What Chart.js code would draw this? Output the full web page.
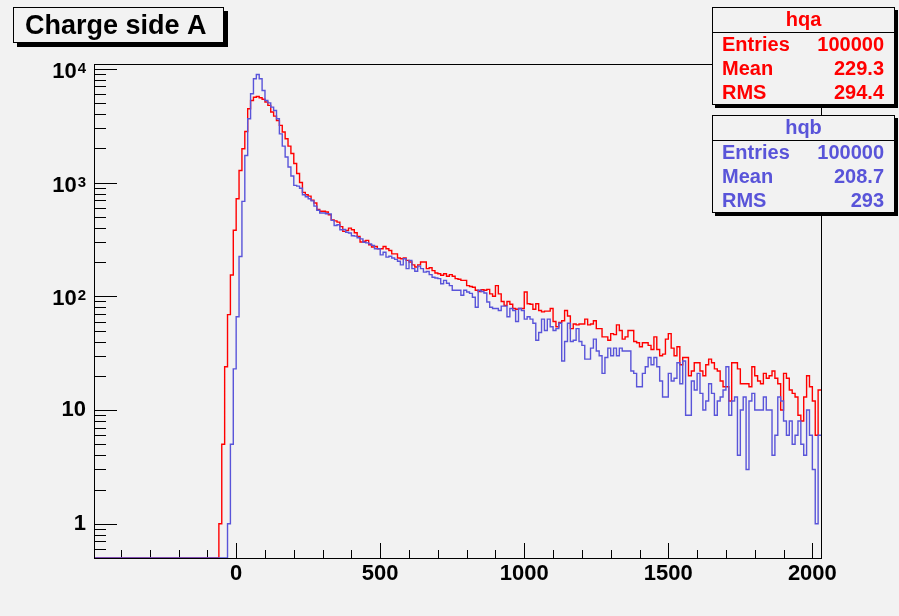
<!DOCTYPE html>
<html>
<head>
<meta charset="utf-8">
<title>Charge side A</title>
<script src="https://cdn.jsdelivr.net/npm/chart.js@4.4.1/dist/chart.umd.min.js"></script>
<style>
  html, body { margin: 0; padding: 0; background: #f2f2f2; }
  canvas { display: block; }
</style>
</head>
<body>
<canvas id="chargeChart" width="899" height="616"></canvas>
<script>
// histogram binning: 252 bins of width 10, first bin starts at -490
const BIN_START = -490;
const BIN_WIDTH = 10;

// hqa (red) bin contents
const hqaCounts = [
  0, 0, 0, 0, 0, 0, 0, 0, 0, 0,
  0, 0, 0, 0, 0, 0, 0, 0, 0, 0,
  0, 0, 0, 0, 0, 0, 0, 0, 0, 0,
  0, 0, 0, 0, 0, 0, 0, 0, 0, 0,
  0, 0, 0, 1, 5, 24, 69, 154, 381, 720,
  1276, 1980, 2810, 4450, 5270, 5630, 5700, 5570, 5400, 5100,
  4770, 4170, 3840, 3510, 3180, 2780, 2430, 2090, 1800, 1470,
  1200, 1000, 820, 780, 760, 700, 660, 580, 560, 560,
  550, 521, 470, 460, 449, 410, 372, 380, 397, 385,
  362, 335, 300, 305, 310, 284, 271, 274, 262, 262,
  274, 262, 253, 236, 236, 217, 214, 217, 207, 200,
  189, 181, 189, 200, 200, 175, 178, 168, 160, 158,
  153, 158, 150, 155, 150, 143, 141, 138, 138, 124,
  122, 120, 113, 110, 114, 113, 115, 105, 100, 124,
  105, 90, 83, 90, 85, 78, 77, 78, 78, 109,
  86, 85, 77, 86, 75, 73, 74, 74, 78, 60,
  54, 59, 61, 75, 67, 52, 57, 56, 57, 57,
  63, 56, 57, 61, 52, 52, 44, 44, 41, 47,
  46, 56, 50, 42, 44, 50, 50, 40, 39, 36,
  39, 39, 37, 34, 44, 34, 30, 31, 42, 47,
  35, 30, 36, 25, 29, 29, 20, 22, 26, 26,
  22, 20, 25, 28, 26, 23, 22, 18, 16, 16,
  12, 26, 26, 23, 17, 17, 17, 16, 24, 20,
  18, 17, 21, 19, 20, 22, 19, 17, 10, 21,
  19, 15, 14, 13, 9, 8, 13, 20, 16, 12,
  6, 15
];

// hqb (blue) bin contents
const hqbCounts = [
  0, 0, 0, 0, 0, 0, 0, 0, 0, 0,
  0, 0, 0, 0, 0, 0, 0, 0, 0, 0,
  0, 0, 0, 0, 0, 0, 0, 0, 0, 0,
  0, 0, 0, 0, 0, 0, 0, 0, 0, 0,
  0, 0, 0, 0, 0, 0, 1, 5, 23, 66,
  224, 683, 1730, 3640, 6030, 8170, 8910, 8170, 6450, 5270,
  5020, 4600, 4300, 3640, 2680, 2090, 1675, 1370, 1140, 945,
  930, 890, 780, 750, 720, 690, 620, 570, 540, 540,
  531, 530, 465, 419, 425, 384, 386, 366, 360, 341,
  338, 327, 320, 299, 295, 289, 280, 262, 262, 231,
  244, 221, 225, 217, 211, 203, 189, 214, 175, 207,
  175, 166, 184, 175, 163, 165, 155, 147, 145, 143,
  129, 138, 130, 124, 113, 113, 113, 102, 113, 109,
  106, 98, 80, 113, 110, 107, 89, 80, 78, 78,
  75, 82, 82, 66, 78, 75, 60, 78, 75, 63,
  66, 63, 58, 41, 48, 63, 50, 63, 54, 50,
  52, 58, 27, 40, 58, 40, 41, 52, 40, 37,
  28, 28, 35, 42, 33, 30, 21, 29, 35, 30,
  35, 30, 35, 33, 33, 33, 22, 21, 16, 16,
  21, 24, 29, 25, 29, 24, 18, 13, 13, 21,
  18, 19, 26, 17, 27, 9, 9, 18, 15, 21,
  14, 10, 12, 17, 14, 9, 12, 13, 15, 24,
  9, 12, 13, 4, 10, 13, 3, 12, 14, 10,
  10, 10, 13, 10, 10, 4, 6, 13, 12, 8,
  6, 8, 5, 6, 8, 5, 4, 10, 6, 3,
  1, 6
];

const xTickValues = [0, 500, 1000, 1500, 2000];
const xTickLabels = ['0', '500', '1000', '1500', '2000'];
const yTickValues = [1, 10, 100, 1000, 10000];
const yTickLabels = ['1', '10', '10^2', '10^3', '10^4'];

const statLabels = ['Entries', 'Mean', 'RMS'];
const hqaStats = ['100000', '229.3', '294.4'];
const hqbStats = ['100000', '208.7', '293'];

const X_MIN = -490, X_MAX = 2030;
const Y_MIN = 0.5, Y_MAX = 10800;

const FONT = '"Liberation Sans", Arial, Helvetica, sans-serif';
const RED = '#ff0000';
const BLUE = '#5954d9';
const BG = '#f2f2f2';

// bin contents -> step points at the low edge of each bin (empty bins sit on the frame)
function toPoints(counts) {
  const pts = [];
  for (let i = 0; i < counts.length; i++) {
    pts.push({ x: BIN_START + i * BIN_WIDTH, y: counts[i] > 0 ? counts[i] : Y_MIN });
  }
  pts.push({ x: BIN_START + counts.length * BIN_WIDTH, y: pts[pts.length - 1].y });
  return pts;
}

function drawBox(ctx, left, top, width, height, shadow) {
  ctx.fillStyle = '#000';
  ctx.fillRect(left + shadow, top + shadow, width, height);
  ctx.fillStyle = BG;
  ctx.fillRect(left, top, width, height);
  ctx.strokeStyle = '#000';
  ctx.lineWidth = 1;
  ctx.strokeRect(left + 0.5, top + 0.5, width - 1, height - 1);
}

function drawStats(ctx, top, name, values, color) {
  const left = 712, width = 183, height = 98;
  drawBox(ctx, left, top, width, height, 3);
  ctx.beginPath();
  ctx.moveTo(left, top + 25.5);
  ctx.lineTo(left + width, top + 25.5);
  ctx.stroke();

  ctx.fillStyle = color;
  ctx.font = 'bold 20px ' + FONT;
  ctx.textBaseline = 'middle';
  ctx.textAlign = 'center';
  ctx.fillText(name, left + width / 2, top + 13);
  for (let i = 0; i < statLabels.length; i++) {
    const yy = top + 38.5 + i * 24;
    ctx.textAlign = 'left';
    ctx.fillText(statLabels[i], 722, yy);
    ctx.textAlign = 'right';
    ctx.fillText(values[i], 884, yy);
  }
}

const rootFrame = {
  id: 'rootFrame',
  beforeDraw(chart) {
    const ctx = chart.ctx;
    ctx.save();
    ctx.fillStyle = BG;
    ctx.fillRect(0, 0, chart.width, chart.height);
    ctx.restore();
  },
  beforeDatasetsDraw(chart) {
    const { ctx, chartArea: a, scales } = chart;
    const x = scales.x, y = scales.y;
    ctx.save();
    ctx.strokeStyle = '#000';
    ctx.lineWidth = 1;
    ctx.strokeRect(a.left - 0.5, a.top - 0.5, a.right - a.left + 1, a.bottom - a.top + 1);

    ctx.beginPath();
    for (let v = Math.ceil(X_MIN / 100) * 100; v <= X_MAX; v += 100) {
      const px = Math.round(x.getPixelForValue(v)) + 0.5;
      const len = v % 500 === 0 ? 15 : 8;
      ctx.moveTo(px, a.bottom);
      ctx.lineTo(px, a.bottom - len);
    }
    for (let d = -1; d <= 4; d++) {
      for (let m = 1; m <= 9; m++) {
        const v = m * Math.pow(10, d);
        if (v <= Y_MIN || v >= Y_MAX) continue;
        const py = Math.round(y.getPixelForValue(v)) + 0.5;
        ctx.moveTo(a.left, py);
        ctx.lineTo(a.left + (m === 1 ? 22 : 11), py);
      }
    }
    ctx.stroke();
    ctx.restore();
  },
  afterDraw(chart) {
    const { ctx, scales } = chart;
    const y = scales.y;
    ctx.save();

    // y labels, with exponents raised
    ctx.fillStyle = '#000';
    ctx.textBaseline = 'middle';
    for (let i = 0; i < yTickValues.length; i++) {
      const py = y.getPixelForValue(yTickValues[i]);
      const parts = yTickLabels[i].split('^');
      if (parts.length === 1) {
        ctx.font = 'bold 22px ' + FONT;
        ctx.textAlign = 'right';
        ctx.fillText(parts[0], 86, py);
      } else {
        ctx.font = 'bold 15px ' + FONT;
        const wExp = ctx.measureText(parts[1]).width;
        ctx.textAlign = 'right';
        ctx.textBaseline = 'alphabetic';
        ctx.fillText(parts[1], 86, py + 4);
        ctx.font = 'bold 22px ' + FONT;
        ctx.textBaseline = 'middle';
        ctx.fillText(parts[0], 86 - wExp - 1, py + 3);
      }
    }

    // title pave
    drawBox(ctx, 13, 7, 211, 36, 4);
    ctx.fillStyle = '#000';
    ctx.font = 'bold 27px ' + FONT;
    ctx.textAlign = 'left';
    ctx.textBaseline = 'alphabetic';
    ctx.fillText('Charge side A', 25, 34);

    drawStats(ctx, 7, 'hqa', hqaStats, RED);
    drawStats(ctx, 115, 'hqb', hqbStats, BLUE);
    ctx.restore();
  }
};

new Chart(document.getElementById('chargeChart'), {
  type: 'line',
  data: {
    datasets: [
      {
        label: 'hqb',
        data: toPoints(hqbCounts),
        borderColor: BLUE,
        borderWidth: 1.4,
        stepped: true,
        pointRadius: 0,
        fill: false,
        order: 1
      },
      {
        label: 'hqa',
        data: toPoints(hqaCounts),
        borderColor: RED,
        borderWidth: 1.4,
        stepped: true,
        pointRadius: 0,
        fill: false,
        order: 2
      }
    ]
  },
  options: {
    responsive: false,
    animation: false,
    layout: { padding: { left: 0, right: 78, top: 65, bottom: 0 } },
    plugins: { legend: { display: false }, tooltip: { enabled: false } },
    scales: {
      x: {
        type: 'linear',
        min: X_MIN,
        max: X_MAX,
        grid: { display: false, drawTicks: false },
        border: { display: false },
        afterBuildTicks: (s) => { s.ticks = xTickValues.map(v => ({ value: v })); },
        afterFit: (s) => { s.height = 58; },
        ticks: {
          autoSkip: false,
          maxRotation: 0,
          padding: 3,
          color: '#000',
          font: { family: FONT, size: 22, weight: 'bold' },
          callback: (v, i) => xTickLabels[i]
        }
      },
      y: {
        type: 'logarithmic',
        min: Y_MIN,
        max: Y_MAX,
        grid: { display: false },
        border: { display: false },
        afterBuildTicks: (s) => { s.ticks = yTickValues.map(v => ({ value: v })); },
        afterFit: (s) => { s.width = 95; },
        ticks: { display: false }
      }
    }
  },
  plugins: [rootFrame]
});
</script>
</body>
</html>
